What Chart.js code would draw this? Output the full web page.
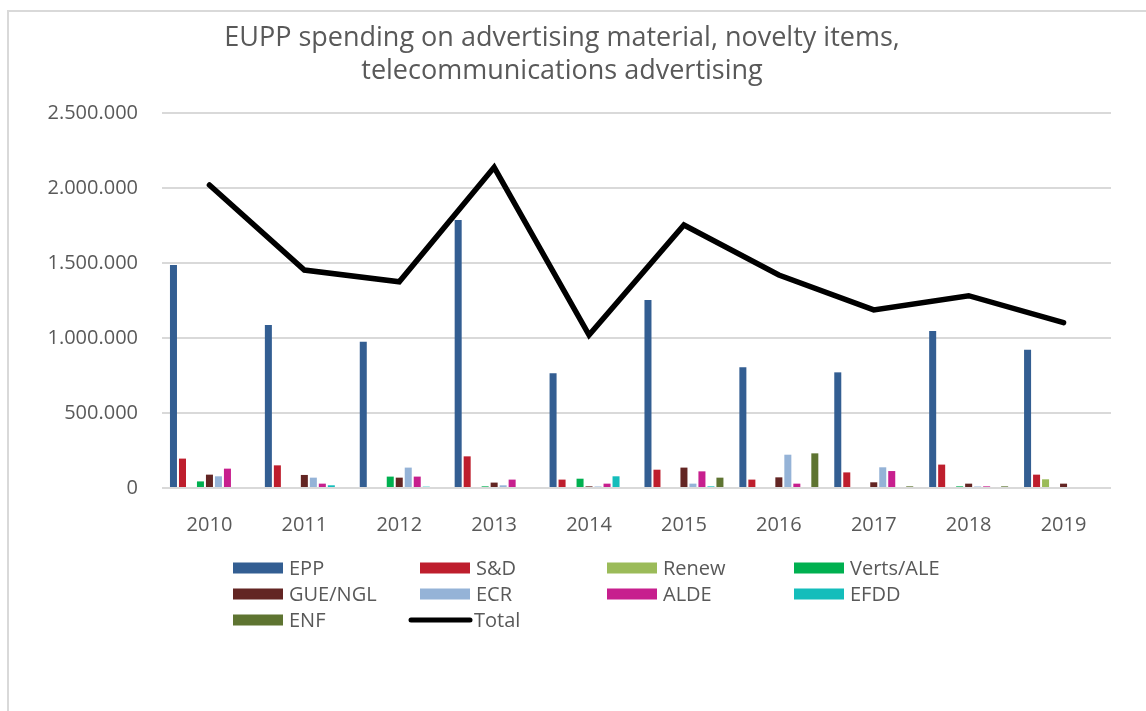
<!DOCTYPE html>
<html>
<head>
<meta charset="utf-8">
<script src="https://cdn.jsdelivr.net/npm/chart.js@4.4.1/dist/chart.umd.min.js"></script>
<style>
    body { margin: 0; background: #fff; }
    #wrap { position: relative; width: 1146px; height: 711px; }
</style>
</head>
<body>
<div id="wrap"><canvas id="chart"></canvas></div>
<script>
// Данные графика
const years = ['2010', '2011', '2012', '2013', '2014', '2015', '2016', '2017', '2018', '2019'];
const epp    = [1487000, 1087000, 975000, 1787000, 765000, 1253000, 805000, 771000, 1047000, 922000];
const sd     = [196000, 151000, 0, 211000, 56000, 122000, 56000, 104000, 156000, 89000];
const renew  = [0, 0, 0, 0, 0, 0, 0, 0, 0, 58000];
const verts  = [44000, 0, 76000, 11000, 62000, 0, 0, 0, 11000, 0];
const gue    = [89000, 87000, 69000, 36000, 11000, 136000, 71000, 38000, 29000, 29000];
const ecr    = [78000, 69000, 136000, 18000, 10000, 29000, 222000, 138000, 10000, 0];
const alde   = [129000, 29000, 76000, 56000, 29000, 111000, 29000, 113000, 11000, 0];
const efdd   = [0, 18000, 9000, 0, 78000, 11000, 0, 0, 0, 0];
const enf    = [0, 0, 0, 0, 0, 69000, 231000, 11000, 11000, 0];
const total  = [2020000, 1453000, 1375000, 2138000, 1020000, 1753000, 1420000, 1187000, 1282000, 1102000];

const yTicks = [0, 500000, 1000000, 1500000, 2000000, 2500000];

const titleLines = ['EUPP spending on advertising material, novelty items,', 'telecommunications advertising'];
const textColor = '#595959';
const fontFamily = "'Open Sans', sans-serif";

// Формат 2.500.000
function fmt(v) {
    return v.toString().replace(/\B(?=(\d{3})+(?!\d))/g, '.');
}

function bar(label, data, color) {
    return { type: 'bar', label, data, backgroundColor: color, borderWidth: 0, order: 1 };
}

// Рамка, заголовок и легенда
const decor = {
    id: 'decor',
    beforeDraw(chart) {
        const ctx = chart.ctx;
        ctx.save();
        ctx.strokeStyle = '#d9d9d9';
        ctx.lineWidth = 2;
        ctx.beginPath();
        ctx.moveTo(8, 711);
        ctx.lineTo(8, 11);
        ctx.lineTo(1146, 11);
        ctx.stroke();
        ctx.restore();
    },
    afterDraw(chart) {
        const ctx = chart.ctx;
        ctx.save();
        ctx.fillStyle = textColor;
        ctx.textAlign = 'center';
        ctx.textBaseline = 'alphabetic';
        ctx.font = '27px ' + fontFamily;
        ctx.fillText(titleLines[0], 562, 46);
        ctx.fillText(titleLines[1], 562, 79);

        ctx.font = '20px ' + fontFamily;
        ctx.textAlign = 'left';
        ctx.textBaseline = 'middle';
        chart.data.datasets.forEach((ds, i) => {
            const x = 233 + (i % 4) * 187;
            const y = 568 + Math.floor(i / 4) * 26;
            if (ds.type === 'line') {
                ctx.strokeStyle = ds.borderColor;
                ctx.lineWidth = 5;
                ctx.lineCap = 'round';
                ctx.beginPath();
                ctx.moveTo(x - 9, y);
                ctx.lineTo(x + 50, y);
                ctx.stroke();
                ctx.fillStyle = textColor;
                ctx.fillText(ds.label, x + 54, y + 1);
            } else {
                ctx.fillStyle = ds.backgroundColor;
                ctx.fillRect(x, y - 5.5, 50, 11);
                ctx.fillStyle = textColor;
                ctx.fillText(ds.label, x + 56, y + 1);
            }
        });
        ctx.restore();
    }
};

new Chart(document.getElementById('chart'), {
    type: 'bar',
    data: {
        labels: years,
        datasets: [
            bar('EPP', epp, '#335e92'),
            bar('S&D', sd, '#be1e2d'),
            bar('Renew', renew, '#9bbb59'),
            bar('Verts/ALE', verts, '#00b050'),
            bar('GUE/NGL', gue, '#632523'),
            bar('ECR', ecr, '#95b3d7'),
            bar('ALDE', alde, '#c71f8e'),
            bar('EFDD', efdd, '#14bdbb'),
            bar('ENF', enf, '#5e7431'),
            {
                type: 'line',
                label: 'Total',
                data: total,
                borderColor: '#000000',
                borderWidth: 5.5,
                pointRadius: 0,
                tension: 0,
                fill: false,
                borderCapStyle: 'round',
                order: 0
            }
        ]
    },
    options: {
        responsive: true,
        maintainAspectRatio: false,
        animation: false,
        datasets: {
            bar: { categoryPercentage: 0.853, barPercentage: 0.78 }
        },
        layout: { padding: { top: 113, right: 35, bottom: 0, left: 0 } },
        plugins: {
            legend: { display: false },
            title: { display: false },
            tooltip: { enabled: false }
        },
        scales: {
            x: {
                grid: { display: false },
                border: { display: false },
                ticks: { color: textColor, font: { family: fontFamily, size: 20 }, padding: 17 },
                afterFit(scale) { scale.height = 711 - 488; }
            },
            y: {
                min: 0,
                max: 2500000,
                afterBuildTicks(scale) { scale.ticks = yTicks.map(v => ({ value: v })); },
                ticks: { color: textColor, font: { family: fontFamily, size: 20 }, padding: 24, callback: v => fmt(v) },
                grid: { color: '#d9d9d9', lineWidth: 2, drawTicks: false },
                border: { display: false },
                afterFit(scale) { scale.width = 162; }
            }
        }
    },
    plugins: [decor]
});
</script>
</body>
</html>
